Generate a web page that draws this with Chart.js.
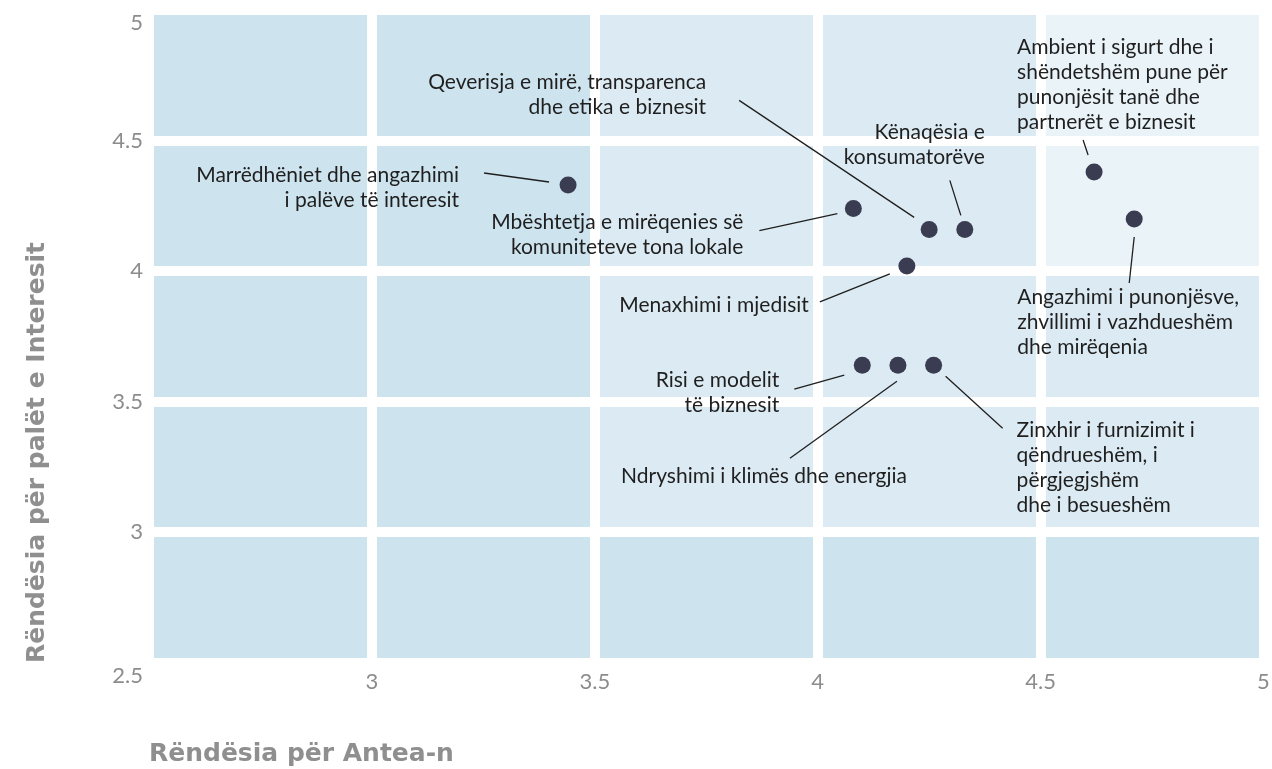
<!DOCTYPE html>
<html>
<head>
<meta charset="utf-8">
<title>Matrica e materialitetit</title>
<script src="https://cdn.jsdelivr.net/npm/chart.js@4.4.1/dist/chart.umd.min.js"></script>
<style>
  html, body { margin: 0; padding: 0; background: #fff; }
</style>
</head>
<body>
<canvas id="matrixChart" width="1272" height="769"></canvas>
<script>
// temat materiale (emri ndahet ne rreshta si ne grafik)
var topics = [
  ['Marrëdhëniet dhe angazhimi', 'i palëve të interesit'],
  ['Qeverisja e mirë, transparenca', 'dhe etika e biznesit'],
  ['Kënaqësia e', 'konsumatorëve'],
  ['Mbështetja e mirëqenies së', 'komuniteteve tona lokale'],
  ['Menaxhimi i mjedisit'],
  ['Ambient i sigurt dhe i', 'shëndetshëm pune për', 'punonjësit tanë dhe', 'partnerët e biznesit'],
  ['Angazhimi i punonjësve,', 'zhvillimi i vazhdueshëm', 'dhe mirëqenia'],
  ['Risi e modelit', 'të biznesit'],
  ['Ndryshimi i klimës dhe energjia'],
  ['Zinxhir i furnizimit i', 'qëndrueshëm, i', 'përgjegjshëm', 'dhe i besueshëm']
];
var anteaScores       = [3.44, 4.25, 4.33, 4.08, 4.20, 4.62, 4.71, 4.10, 4.18, 4.26];
var stakeholderScores = [4.33, 4.16, 4.16, 4.24, 4.02, 4.38, 4.20, 3.64, 3.64, 3.64];
var axisTicks = [2.5, 3, 3.5, 4, 4.5, 5];

// vendi i tekstit dhe i vijes, ne px nga pika
var callouts = [
  { align: 'right', dx: -109, dy: -10,  line: [-84, -12, -19, -3] },
  { align: 'right', dx: -223, dy: -147, line: [-190, -129, -15, -12] },
  { align: 'right', dx: 20,   dy: -97,  line: [-15, -49, -4, -14] },
  { align: 'right', dx: -110, dy: 14,   line: [-94, 22, -16, 5] },
  { align: 'right', dx: -98,  dy: 39,   line: [-87, 36, -17, 8] },
  { align: 'left',  dx: -77,  dy: -125, line: [-11, -32, -6, -17] },
  { align: 'left',  dx: -117, dy: 78,   line: [0, 18, -5, 64] },
  { align: 'right', dx: -83,  dy: 15,   line: [-18, 10, -68, 24] },
  { align: 'right', dx: 9,    dy: 111,  line: [-1, 16, -108, 93] },
  { align: 'left',  dx: 83,   dy: 65,   line: [12, 11, 69, 63] }
];

var points = anteaScores.map(function (v, i) {
  return { x: v, y: stakeholderScores[i] };
});

// ngjyrat e zonave te sfondit
var zonesPlugin = {
  id: 'zones',
  beforeDraw: function (chart) {
    var ctx = chart.ctx, a = chart.chartArea;
    var sx = chart.scales.x, sy = chart.scales.y;
    ctx.save();
    ctx.fillStyle = '#cde3ee';
    ctx.fillRect(a.left, a.top, a.width, a.height);
    var x35 = sx.getPixelForValue(3.5), x45 = sx.getPixelForValue(4.5);
    var y3 = sy.getPixelForValue(3), y4 = sy.getPixelForValue(4);
    ctx.fillStyle = '#dcebf3';
    ctx.fillRect(x35, a.top, a.right - x35, y3 - a.top);
    ctx.fillStyle = '#eaf3f7';
    ctx.fillRect(x45, a.top, a.right - x45, y4 - a.top);
    ctx.restore();
  }
};

var calloutPlugin = {
  id: 'callouts',
  afterDatasetsDraw: function (chart) {
    var ctx = chart.ctx;
    var meta = chart.getDatasetMeta(0);
    ctx.save();
    ctx.strokeStyle = '#1f1f1f';
    ctx.lineWidth = 1.3;
    ctx.fillStyle = '#1f1f1f';
    ctx.font = '21px Lato, "Liberation Sans", sans-serif';
    ctx.textBaseline = 'middle';
    callouts.forEach(function (c, i) {
      var p = meta.data[i];
      ctx.beginPath();
      ctx.moveTo(p.x + c.line[0], p.y + c.line[1]);
      ctx.lineTo(p.x + c.line[2], p.y + c.line[3]);
      ctx.stroke();
      ctx.textAlign = c.align;
      topics[i].forEach(function (t, k) {
        ctx.fillText(t, p.x + c.dx, p.y + c.dy + k * 25);
      });
    });
    ctx.restore();
  }
};

var tickFont = { family: 'Lato, "Liberation Sans", sans-serif', size: 22, weight: 'normal' };
var titleFont = { family: '"DejaVu Sans", sans-serif', size: 25, weight: 'bold' };

var ctx = document.getElementById('matrixChart');
new Chart(ctx, {
  type: 'scatter',
  data: {
    datasets: [{
      label: 'Temat',
      data: points,
      backgroundColor: '#3a3d51',
      borderWidth: 0,
      pointRadius: 8.5,
      pointHoverRadius: 8.5
    }]
  },
  options: {
    responsive: false,
    animation: false,
    layout: { padding: { top: 10, left: 0, right: 0, bottom: 0 } },
    plugins: {
      legend: { display: false },
      tooltip: { enabled: false }
    },
    scales: {
      x: {
        type: 'linear',
        min: 2.5,
        max: 5,
        afterBuildTicks: function (s) {
          s.ticks = axisTicks.map(function (v) { return { value: v }; });
        },
        afterFit: function (s) { s.height = 106; s.paddingLeft = 0; s.paddingRight = 6; },
        grid: { color: '#ffffff', lineWidth: 10, drawTicks: false },
        border: { display: false },
        ticks: {
          padding: 6,
          color: '#8c8c8c',
          font: tickFont,
          callback: function (v) { return v === 2.5 ? '' : String(v); }
        },
        title: {
          display: true,
          text: 'Rëndësia për Antea-n',
          align: 'start',
          color: '#8f8f8f',
          font: titleFont,
          padding: { top: 0, bottom: 0 }
        }
      },
      y: {
        type: 'linear',
        min: 2.5,
        max: 5,
        afterBuildTicks: function (s) {
          s.ticks = axisTicks.map(function (v) { return { value: v }; });
        },
        afterFit: function (s) { s.width = 149; s.paddingTop = 0; s.paddingBottom = 0; },
        grid: { color: '#ffffff', lineWidth: 10, drawTicks: false },
        border: { display: false },
        ticks: {
          padding: 6,
          color: '#8c8c8c',
          font: tickFont,
          callback: function (v) {
            return (v === 5 || v === 2.5) ? ['', String(v)] : String(v);
          }
        },
        title: {
          display: true,
          text: 'Rëndësia për palët e Interesit',
          align: 'start',
          color: '#8f8f8f',
          font: titleFont,
          padding: { top: 22, bottom: 0 }
        }
      }
    }
  },
  plugins: [zonesPlugin, calloutPlugin]
});
</script>
</body>
</html>
